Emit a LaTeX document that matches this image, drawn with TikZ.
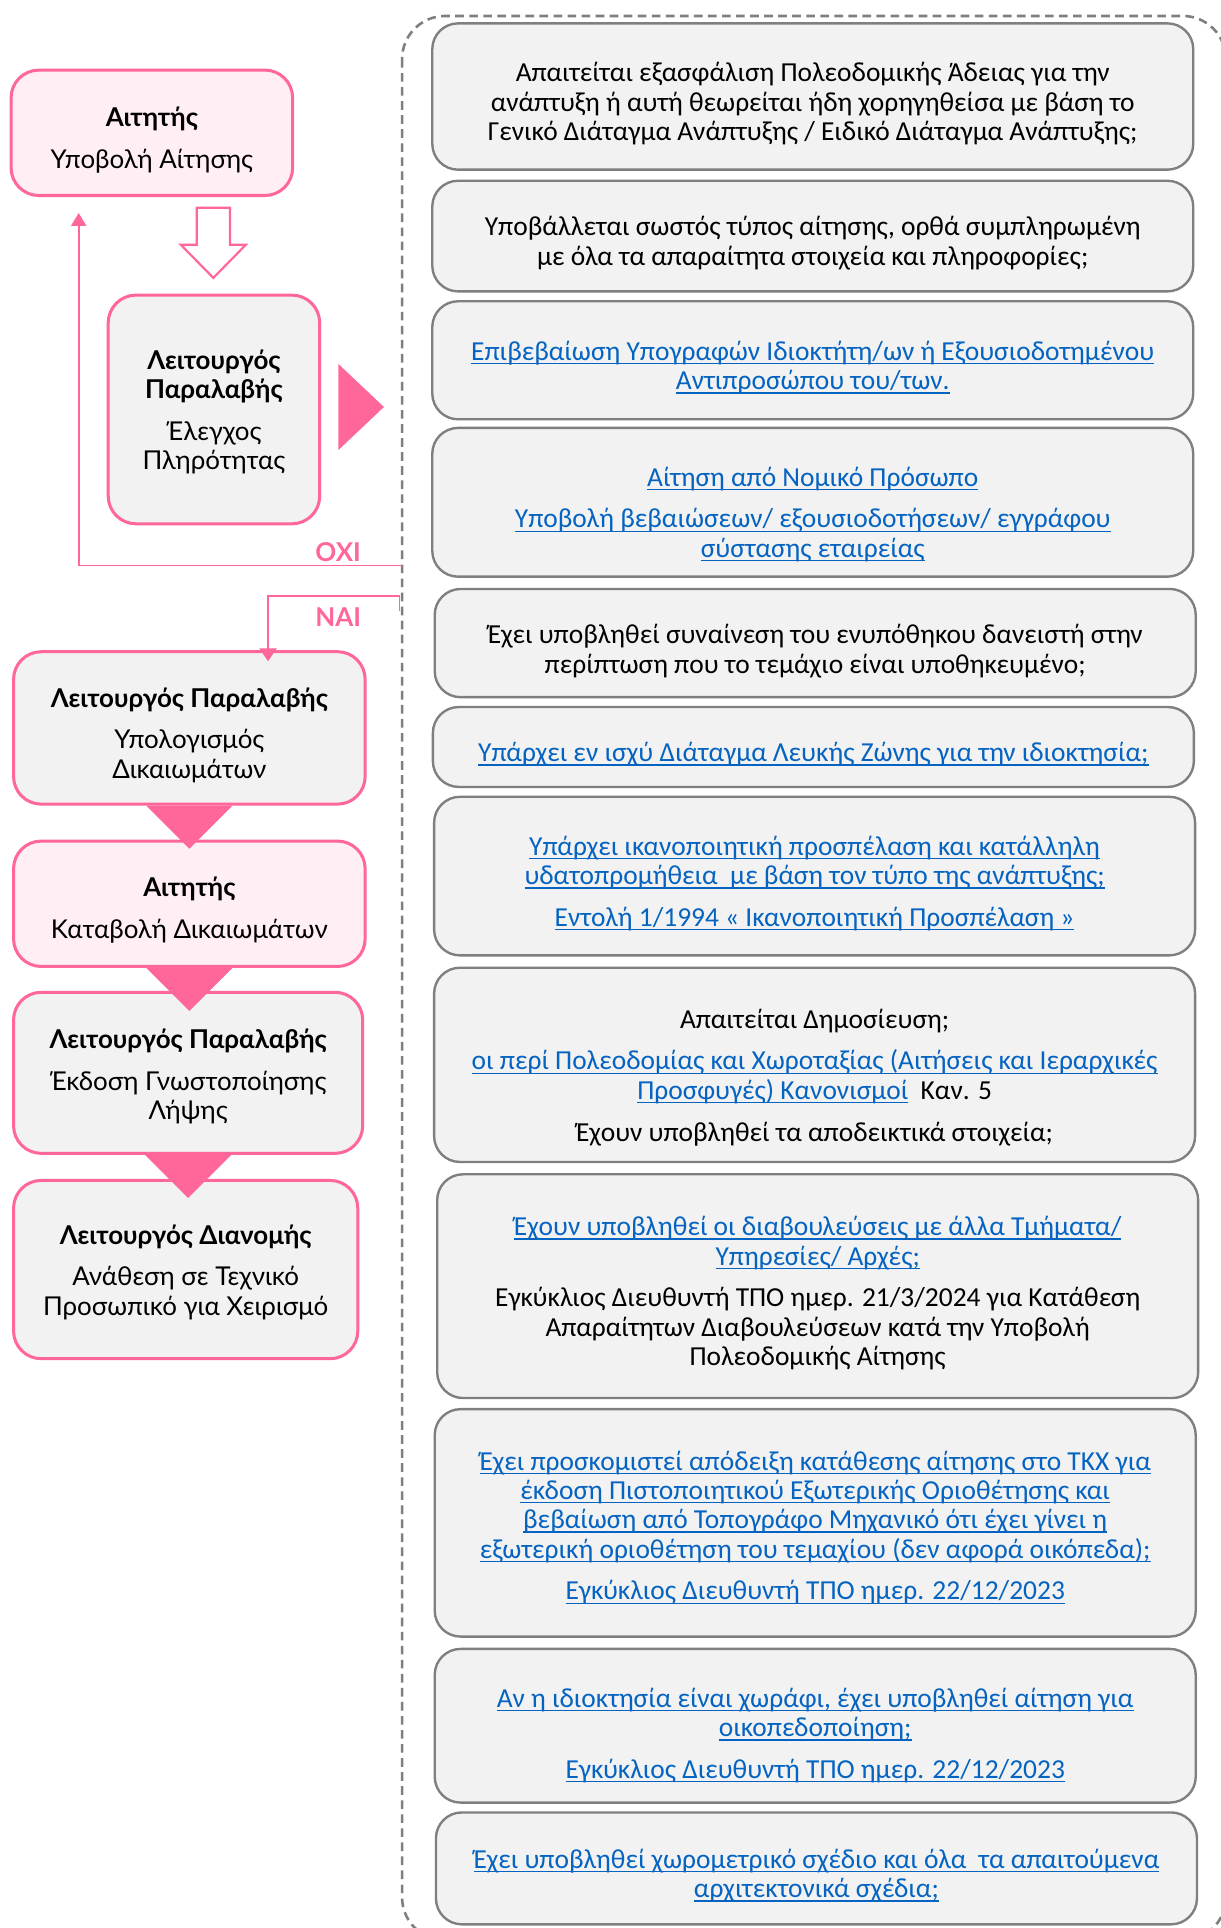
\documentclass[tikz,border=0pt]{standalone}
\usepackage{fontspec}
\setmainfont{Carlito}
\newfontfamily\leftfont{Lato}
\usepackage{xcolor}
\usetikzlibrary{arrows.meta}

\definecolor{pinkc}{HTML}{FF6699}
\definecolor{pinkfill}{HTML}{FFEEF3}
\definecolor{boxfill}{HTML}{F2F2F2}
\definecolor{boxgray}{HTML}{7F7F7F}
\definecolor{linkblue}{HTML}{0563C1}
\newcommand{\lnk}[1]{{\color{linkblue}\setbox0\hbox{#1}\rlap{\rule[-1.9pt]{\wd0}{0.65pt}}\box0}}
\newcommand{\droptext}[1][15.5pt]{\rule{0pt}{#1}}

\begin{document}
\begin{tikzpicture}[x=0.02cm, y=-0.02cm,
    role/.style={draw=pinkc, line width=1.4pt, fill=boxfill, rounded corners=0.45cm,
        align=center, inner sep=0pt, font=\leftfont\fontsize{12}{13.6}\selectfont},
    applicant/.style={role, fill=pinkfill},
    check/.style={draw=boxgray, line width=1.1pt, fill=boxfill, rounded corners=0.42cm,
        align=center, inner sep=0pt, minimum width=12.38cm,
        font=\fontsize{12.7}{13.6}\selectfont},
    flow/.style={draw=pinkc, line width=0.8pt},
    answer/.style={text=pinkc, font=\leftfont\bfseries\fontsize{12}{14}\selectfont}]
        \clip (0,0) rectangle (993,1568);
        \fill[white] (0,0) rectangle (993,1568);
        % checklist frame
        \draw[boxgray, line width=1.2pt, dash pattern=on 4pt off 2.5pt, rounded corners=0.7cm] (327,13) rectangle (997,1578);

        % left column
        \node[applicant, minimum width=4.58cm, minimum height=2.04cm] (appl) at (123.5,108) {\droptext[15.8pt]\textbf{Αιτητής}\\[5.7pt]Υποβολή Αίτησης};
        \node[role, minimum width=3.44cm, minimum height=3.72cm] (chk) at (174,333) {\droptext[11.3pt]\textbf{Λειτουργός}\\\textbf{Παραλαβής}\\[5.7pt]Έλεγχος\\Πληρότητας};
        \node[role, minimum width=5.72cm, minimum height=2.48cm] (calc) at (154,592) {\droptext[15.8pt]\textbf{Λειτουργός Παραλαβής}\\[5.7pt]Υπολογισμός\\Δικαιωμάτων};
        \node[applicant, minimum width=5.72cm, minimum height=2.04cm] (pay) at (154,735) {\droptext[14.7pt]\textbf{Αιτητής}\\[5.7pt]Καταβολή Δικαιωμάτων};
        \node[role, minimum width=5.68cm, minimum height=2.62cm] (ack) at (153,872.5) {\droptext[12.4pt]\textbf{Λειτουργός Παραλαβής}\\[5.7pt]Έκδοση Γνωστοποίησης\\Λήψης};
        \node[role, minimum width=5.6cm, minimum height=2.9cm] (dist) at (151,1032.5) {\droptext[11.3pt]\textbf{Λειτουργός Διανομής}\\[5.7pt]Ανάθεση σε Τεχνικό\\Προσωπικό για Χειρισμό};

        % hollow arrow and pointers
        \coordinate (dn) at (173.5,169);
        \draw[pinkc, line width=1pt, fill=white] (dn) ++(-13.5,0) -- ++(27,0) -- ++(0,30) -- ++(13,0) -- ++(-26.5,27) -- ++(-26.5,-27) -- ++(13,0) -- cycle;
        \fill[pinkc] ([shift={(14,-37)}]chk.east) -- ([shift={(14,33)}]chk.east) -- ([shift={(51,-2)}]chk.east) -- cycle;
        \foreach \a in {calc, pay, ack}
            \fill[pinkc] ([shift={(-35,0)}]\a.south) -- ([shift={(35,0)}]\a.south) -- ([shift={(0,35)}]\a.south) -- cycle;

        % right column
        \node[check, minimum height=2.38cm] (q1) at (661,78.5) {\droptext Απαιτείται εξασφάλιση Πολεοδομικής Άδειας για την\\ανάπτυξη ή αυτή θεωρείται ήδη χορηγηθείσα με βάση το\\Γενικό Διάταγμα Ανάπτυξης / Ειδικό Διάταγμα Ανάπτυξης;};
        \node[check, minimum height=1.8cm] (q2) at (661,192) {\droptext Υποβάλλεται σωστός τύπος αίτησης, ορθά συμπληρωμένη\\με όλα τα απαραίτητα στοιχεία και πληροφορίες;};
        \node[check, minimum height=1.92cm] (q3) at (661,293) {\droptext\lnk{Επιβεβαίωση Υπογραφών Ιδιοκτήτη/ων ή Εξουσιοδοτημένου}\\\lnk{Αντιπροσώπου του/των.}};
        \node[check, minimum height=2.42cm] (q4) at (661,408.5) {\droptext[20pt]\lnk{Αίτηση από Νομικό Πρόσωπο}\\[5.7pt]\lnk{Υποβολή βεβαιώσεων/ εξουσιοδοτήσεων/ εγγράφου}\\\lnk{σύστασης εταιρείας}};
        \node[check, minimum height=1.76cm] (q5) at (663,523) {\droptext[16.5pt]Έχει υποβληθεί συναίνεση του ενυπόθηκου δανειστή στην\\περίπτωση που το τεμάχιο είναι υποθηκευμένο;};
        \node[check, minimum height=1.3cm] (q6) at (661.5,607.5) {\droptext\lnk{Υπάρχει εν ισχύ Διάταγμα Λευκής Ζώνης για την ιδιοκτησία;}};
        \node[check, minimum height=2.58cm] (q7) at (662.5,712.5) {\droptext\lnk{Υπάρχει ικανοποιητική προσπέλαση και κατάλληλη}\\\lnk{υδατοπρομήθεια\ \ με βάση τον τύπο της ανάπτυξης;}\\[5.7pt]\lnk{Εντολή 1/1994 « Ικανοποιητική Προσπέλαση »}};
        \node[check, minimum height=3.16cm] (q8) at (662.5,866) {\droptext[20.5pt]Απαιτείται Δημοσίευση;\\[5.7pt]\lnk{οι περί Πολεοδομίας και Χωροταξίας (Αιτήσεις και Ιεραρχικές}\\\lnk{Προσφυγές) Κανονισμοί}\ \ Καν. 5\\[5.7pt]Έχουν υποβληθεί τα αποδεικτικά στοιχεία;};
        \node[check, minimum height=3.64cm] (q9) at (665,1046) {\droptext\lnk{Έχουν υποβληθεί οι διαβουλεύσεις με άλλα Τμήματα/}\\\lnk{Υπηρεσίες/ Αρχές;}\\[5.7pt]Εγκύκλιος Διευθυντή ΤΠΟ ημερ. 21/3/2024 για Κατάθεση\\Απαραίτητων Διαβουλεύσεων κατά την Υποβολή\\Πολεοδομικής Αίτησης};
        \node[check, minimum height=3.7cm] (q10) at (663,1238.5) {\droptext[13.2pt]\lnk{Έχει προσκομιστεί απόδειξη κατάθεσης αίτησης στο ΤΚΧ για}\\\lnk{έκδοση Πιστοποιητικού Εξωτερικής Οριοθέτησης και}\\\lnk{βεβαίωση από Τοπογράφο Μηχανικό ότι έχει γίνει η}\\\lnk{εξωτερική οριοθέτηση του τεμαχίου (δεν αφορά οικόπεδα);}\\[5.7pt]\lnk{Εγκύκλιος Διευθυντή ΤΠΟ ημερ. 22/12/2023}};
        \node[check, minimum height=2.5cm] (q11) at (663,1403.5) {\droptext[17.7pt]\lnk{Αν η ιδιοκτησία είναι χωράφι, έχει υποβληθεί αίτηση για}\\\lnk{οικοπεδοποίηση;}\\[5.7pt]\lnk{Εγκύκλιος Διευθυντή ΤΠΟ ημερ. 22/12/2023}};
        \node[check, minimum height=1.82cm] (q12) at (664,1519.5) {\droptext\lnk{Έχει υποβληθεί χωρομετρικό σχέδιο και όλα\ \ τα απαιτούμενα}\\\lnk{αρχιτεκτονικά σχέδια;}};

        % answers
        \coordinate (oxi) at (327,460);
        \coordinate (nai) at (325,497);
        \draw[flow, -{Triangle[width=7pt,length=6pt]}] (oxi) -| ([shift={(-59.5,13)}]appl.south);
        \draw[flow, -{Triangle[width=8pt,length=6pt]}] (nai) -- ++(0,-12) -| ([shift={(64,9)}]calc.north);
        \node[answer] (oxilbl) at (275,449) {ΟΧΙ};
        \node[answer] (nailbl) at (275,502) {ΝΑΙ};
    \end{tikzpicture}
\end{document}
